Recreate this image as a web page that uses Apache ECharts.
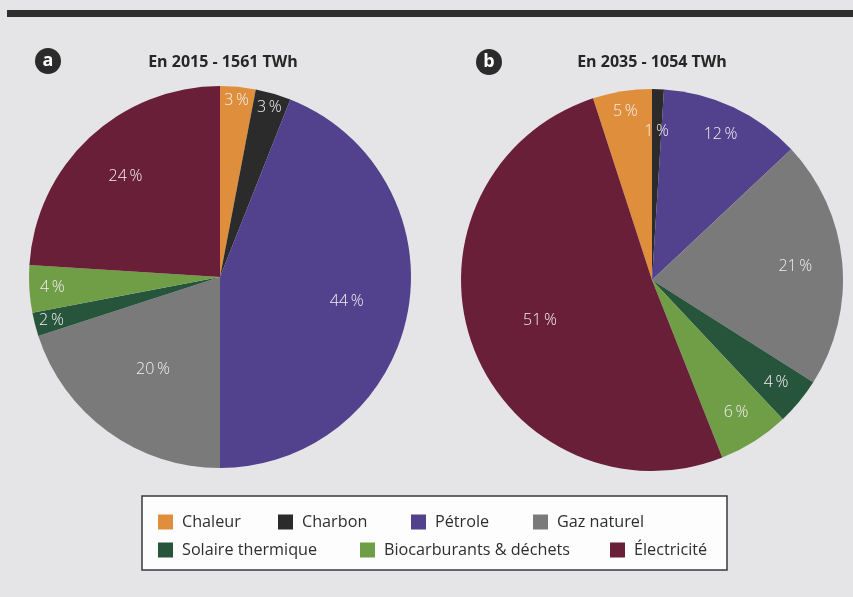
<!DOCTYPE html>
<html>
<head>
<meta charset="utf-8">
<script src="https://cdn.jsdelivr.net/npm/echarts@6/dist/echarts.min.js"></script>
<style>
  html, body { margin: 0; padding: 0; background: #e5e5e7; }
  #chart { width: 853px; height: 597px; }
</style>
</head>
<body>
<div id="chart"></div>
<script>
// ---- data ----
const categories = ['Chaleur', 'Charbon', 'Pétrole', 'Gaz naturel', 'Solaire thermique', 'Biocarburants & déchets', 'Électricité'];
const values2015 = [3, 3, 44, 20, 2, 4, 24];
const values2035 = [5, 1, 12, 21, 4, 6, 51];
const title2015 = 'En 2015 - 1561 TWh';
const title2035 = 'En 2035 - 1054 TWh';
const badge2015 = 'a';
const badge2035 = 'b';

// ---- styles / layout ----
const colors = ['#df8f3b', '#2b2b2b', '#52418c', '#7a7a7a', '#26553c', '#6f9e46', '#6a1f38'];
const FONT = '"Open Sans", "Noto Sans", sans-serif';
const R = 191;
const pieLayouts = [
  { center: [220, 277], startAngle: 90, values: values2015,
    labelRadius: [174, 174, 126, 111, 171, 165, 135] },
  { center: [652, 280], startAngle: 108, values: values2035,
    labelRadius: [168, 146, 158, 141, 158, 154, 116] }
];
const legendPos = [
  [158, 514], [278, 514], [411, 514], [533, 514],
  [158, 542], [360, 542], [610, 542]
];

const series = [];
pieLayouts.forEach(function (p) {
  // main pie
  series.push({
    type: 'pie',
    center: p.center,
    radius: [0, R],
    startAngle: p.startAngle,
    clockwise: true,
    silent: true,
    animation: false,
    label: { show: false },
    labelLine: { show: false },
    itemStyle: { borderWidth: 0 },
    data: categories.map(function (c, i) {
      return { name: c, value: p.values[i], itemStyle: { color: colors[i] } };
    })
  });
  // label rings (transparent), one per distinct label radius
  const radii = Array.from(new Set(p.labelRadius));
  radii.forEach(function (lr) {
    series.push({
      type: 'pie',
      center: p.center,
      radius: [2 * lr - R, R],
      startAngle: p.startAngle,
      clockwise: true,
      silent: true,
      animation: false,
      legendHoverLink: false,
      itemStyle: { color: 'rgba(0,0,0,0)', borderWidth: 0 },
      labelLine: { show: false },
      label: {
        show: true,
        position: 'inside',
        formatter: function (prm) { return prm.value + '\u2009%'; },
        color: '#f2eef0',
        fontFamily: FONT,
        fontSize: 16,
        fontWeight: 300
      },
      data: categories.map(function (c, i) {
        return { name: c, value: p.values[i], label: { show: p.labelRadius[i] === lr } };
      })
    });
  });
});

const legends = categories.map(function (c, i) {
  return {
    data: [{ name: c, itemStyle: { color: colors[i] } }],
    left: legendPos[i][0],
    top: legendPos[i][1],
    icon: 'rect',
    itemWidth: 15,
    itemHeight: 15,
    padding: 0,
    selectedMode: false,
    textStyle: { color: '#2e2e2e', fontFamily: FONT, fontSize: 16.2, padding: [0, 0, 0, 4] }
  };
});

function badge(cx, cy, letter) {
  return [
    { type: 'circle', shape: { cx: cx, cy: cy, r: 13 }, style: { fill: '#2b2b2b' } },
    { type: 'text', x: cx, y: cy, style: { text: letter, fill: '#ffffff', font: 'bold 18px ' + FONT, align: 'center', verticalAlign: 'middle' } }
  ];
}

const option = {
  backgroundColor: '#e5e5e7',
  animation: false,
  legend: legends,
  series: series,
  graphic: [
    { type: 'rect', shape: { x: 7, y: 10, width: 846, height: 7 }, style: { fill: '#2f2f2f' } },
    ...badge(48, 61, badge2015),
    ...badge(489, 62, badge2035),
    { type: 'text', x: 223, y: 62, style: { text: title2015, fill: '#262626', font: 'bold 16px ' + FONT, align: 'center', verticalAlign: 'middle' } },
    { type: 'text', x: 652, y: 62, style: { text: title2035, fill: '#262626', font: 'bold 16px ' + FONT, align: 'center', verticalAlign: 'middle' } },
    { type: 'rect', z: -1, shape: { x: 142, y: 496, width: 585, height: 74 }, style: { fill: '#fdfdfd', stroke: '#3a3a3a', lineWidth: 1.5 } }
  ]
};

const chart = echarts.init(document.getElementById('chart'), null, { renderer: 'canvas' });
chart.setOption(option);
</script>
</body>
</html>
